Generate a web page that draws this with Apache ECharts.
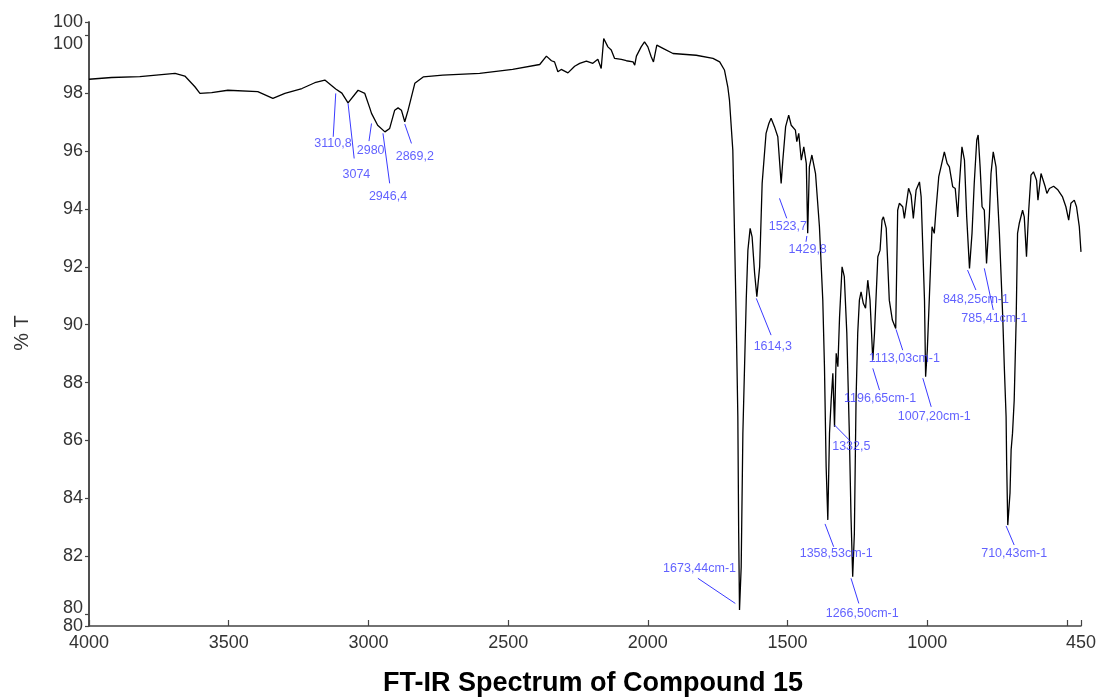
<!DOCTYPE html>
<html>
<head>
<meta charset="utf-8">
<script src="https://cdn.jsdelivr.net/npm/echarts@6/dist/echarts.min.js"></script>
<style>
html,body{margin:0;padding:0;background:#fff;}
#chart{width:1099px;height:698px;}
</style>
</head>
<body>
<div id="chart"></div>
<script>
// Spectrum (wavenumber cm-1, %T)
var wavenumber = [4000,3919,3818,3692,3657,3621,3603,3561,3503,3396,
3342,3299,3238,3192,3156,3117,3095,3073,3037,3013,
2995,2989,2967,2941,2924,2906,2894,2882,2870,2858,
2834,2804,2734,2602,2484,2387,2363,2345,2334,2322,
2310,2286,2262,2244,2220,2197,2179,2167,2158,2143,
2131,2119,2095,2077,2053,2047,2041,2024,2012,2000,
1988,1980,1968,1946,1910,1827,1767,1743,1726,1714,
1708,1696,1690,1684,1678,1675,1672,1666,1660,1648,
1642,1634,1627,1618,1610,1600,1591,1577,1567,1559,
1547,1535,1523,1517,1507,1496,1487,1481,1472,1467,
1460,1451,1442,1433,1428,1422,1413,1400,1386,1374,
1368,1362,1356,1350,1344,1338,1332,1326,1320,1314,
1305,1297,1288,1279,1273,1267,1261,1255,1249,1243,
1237,1229,1221,1213,1205,1195,1189,1177,1169,1162,
1157,1147,1136,1125,1113,1106,1100,1088,1082,1067,
1058,1050,1040,1028,1022,1010,1006,1000,993,983,
975,969,959,951,939,929,921,909,900,891,
885,876,867,859,849,840,832,823,818,811,
804,796,788,778,772,764,754,742,730,724,
718,716,712,704,700,695,689,682,677,671,
659,653,645,637,629,620,609,604,593,587,
578,572,563,548,534,516,504,494,486,474,
466,456,450];
var transmittance = [98.49,98.55,98.58,98.69,98.60,98.23,98.00,98.03,98.11,98.06,
97.83,98.00,98.17,98.37,98.46,98.15,98.01,97.67,98.11,98.00,
97.49,97.31,96.90,96.67,96.79,97.42,97.50,97.42,97.02,97.42,
98.35,98.57,98.63,98.69,98.83,99.00,99.29,99.13,99.09,98.75,
98.83,98.71,98.94,99.04,99.12,99.04,99.18,98.86,99.90,99.61,
99.50,99.21,99.18,99.13,99.09,98.98,99.29,99.61,99.78,99.61,
99.27,99.09,99.67,99.56,99.38,99.32,99.21,99.09,98.81,98.23,
97.77,96.04,93.17,90.27,86.82,82.80,80.13,81.63,86.24,90.85,
92.58,93.33,93.04,91.78,90.97,92.00,94.89,96.62,96.96,97.14,
96.85,96.50,94.89,95.69,96.85,97.25,96.90,96.90,96.73,96.33,
96.62,95.69,96.15,95.58,93.16,95.46,95.87,95.23,93.39,90.85,
88.55,85.09,83.25,86.24,87.39,88.32,86.47,89.01,88.55,90.27,
92.00,91.66,89.70,86.24,83.36,81.28,82.78,87.39,89.70,90.85,
91.14,90.74,90.57,91.54,90.85,88.78,89.70,92.35,92.58,93.62,
93.73,93.34,90.85,90.16,89.87,93.96,94.20,94.08,93.68,94.72,
94.48,93.68,94.66,94.94,94.42,90.85,88.20,89.12,90.85,93.39,
93.16,93.96,95.12,95.46,95.98,95.58,95.46,94.77,94.71,93.73,
94.89,96.15,95.69,93.73,91.95,93.16,94.89,96.39,96.56,95.46,
94.08,93.96,92.12,93.73,95.23,95.98,95.46,93.16,90.27,88.43,
86.82,85.21,83.07,84.18,85.67,86.25,87.39,90.16,93.16,93.50,
93.96,93.73,92.35,93.96,95.17,95.29,95.00,94.31,95.23,95.17,
94.77,94.54,94.71,94.79,94.68,94.42,94.08,93.62,94.20,94.31,
94.08,93.39,92.52];

// Peak annotations
var annText = ['3110,8','3074','2980','2946,4','2869,2','1673,44cm-1','1614,3','1523,7','1429,8','1358,53cm-1','1332,5','1266,50cm-1','1196,65cm-1','1113,03cm-1','1007,20cm-1','848,25cm-1','785,41cm-1','710,43cm-1'];
var annPeakWn = [3117,3073,2989,2948,2870,1687,1612,1529,1431,1366,1332,1273,1195,1112,1016,856,796,718];
var annPeakT = [98.00,97.66,96.96,96.62,96.94,80.36,90.91,94.37,93.07,83.11,86.53,81.23,88.49,89.84,88.15,91.89,91.95,83.04];
var annEndWn = [3126,3051,2998,2924,2846,1821,1559,1503,1434,1335,1279,1245,1171,1088,986,826,764,689];
var annEndT = [96.50,95.75,96.35,94.89,96.27,81.23,89.64,93.68,92.87,82.32,86.01,80.36,87.74,89.12,87.16,91.20,90.51,82.38];
var annTextWn = [3127,3043,2992,2930,2834,1815,1553,1499,1428,1326,1272,1233,1169,1082,975,826,760,689];
var annTextT = [96.27,95.18,96.02,94.42,95.81,81.58,89.24,93.39,92.61,82.07,85.78,80.02,87.45,88.84,86.82,90.88,90.22,82.09];

// Axis settings and tick values
var xMin = 450, xMax = 4000;
var yMin = 79.58, yMax = 100.47;
var xTicks = [4000, 3500, 3000, 2500, 2000, 1500, 1000, 500, 450];
var xHiddenLabels = [500];
var yTicks = [80, 82, 84, 86, 88, 90, 92, 94, 96, 98, 100];
var yEndTicks = [yMin, yMax];
var titleText = 'FT-IR Spectrum of Compound 15';
var yName = '% T';

var tickFont = '"Liberation Sans",Arial,sans-serif';

var specData = wavenumber.map(function (w, i) { return [w, transmittance[i]]; });
var lineData = annText.map(function (t, i) {
  return [{ coord: [annPeakWn[i], annPeakT[i]] }, { coord: [annEndWn[i], annEndT[i]] }];
});
var labelData = annText.map(function (t, i) { return [annTextWn[i], annTextT[i], t]; });

var richBase = { color: '#333', fontSize: 18, fontFamily: tickFont };
var yLabelStyle = {
  show: true, hideOverlap: false, showMinLabel: true, showMaxLabel: true,
  color: '#333', fontSize: 18, fontFamily: tickFont, margin: 6,
  formatter: function (v) {
    var s = String(Math.round(v));
    if (v === yTicks[yTicks.length - 1]) return '{dn|' + s + '}';
    if (v === yTicks[0]) return '{up|' + s + '}';
    return s;
  },
  rich: {
    dn: Object.assign({ padding: [16, 0, 0, 0] }, richBase),
    up: Object.assign({ padding: [0, 0, 12, 0] }, richBase)
  }
};
function yAxisDef(values, withName) {
  var a = {
    type: 'value', min: yMin, max: yMax, position: 'left', offset: 0,
    axisLine: { show: true, onZero: false, lineStyle: { color: '#444', width: 1.5 } },
    axisTick: { show: true, inside: false, length: 4, customValues: values, lineStyle: { color: '#444', width: 1.2 } },
    axisLabel: Object.assign({ customValues: values }, yLabelStyle),
    splitLine: { show: false }
  };
  if (withName) {
    a.name = yName; a.nameLocation = 'middle'; a.nameGap = 57; a.nameRotate = 90;
    a.nameTextStyle = { color: '#333', fontSize: 20, fontFamily: tickFont, padding: [0, 18, 0, 0] };
  }
  return a;
}

var chart = echarts.init(document.getElementById('chart'), null, { renderer: 'canvas' });
chart.setOption({
  animation: false,
  backgroundColor: '#fff',
  grid: { left: 89, right: 17, top: 22, bottom: 72, containLabel: false },
  xAxis: {
    type: 'value', inverse: true, min: xMin, max: xMax,
    axisLine: { show: true, onZero: false, lineStyle: { color: '#444', width: 1.5 } },
    axisTick: { show: true, inside: true, length: 6, customValues: xTicks, lineStyle: { color: '#444', width: 1.2 } },
    axisLabel: {
      show: true, customValues: xTicks, hideOverlap: false, showMinLabel: true, showMaxLabel: true,
      color: '#333', fontSize: 18, fontFamily: tickFont, margin: 8,
      formatter: function (v) { return xHiddenLabels.indexOf(v) >= 0 ? '' : String(Math.round(v)); }
    },
    splitLine: { show: false }
  },
  yAxis: [yAxisDef(yTicks, true), yAxisDef(yEndTicks, false)],
  graphic: [{
    type: 'text', left: 383, top: 670,
    style: { text: titleText, font: 'bold 27px "Liberation Sans", Arial, sans-serif', fill: '#000' }
  }],
  series: [
    {
      type: 'line', data: specData, showSymbol: false, symbol: 'none', yAxisIndex: 0,
      lineStyle: { color: '#000', width: 1.3 },
      markLine: {
        silent: true, symbol: ['none', 'none'],
        lineStyle: { color: '#3a3aff', width: 1, type: 'solid' },
        label: { show: false },
        data: lineData
      },
      z: 3
    },
    {
      type: 'scatter', data: labelData, symbolSize: 1, yAxisIndex: 0,
      itemStyle: { color: 'rgba(0,0,0,0)' },
      label: {
        show: true, position: 'inside', color: '#3a3aff',
        fontSize: 12.5, fontFamily: tickFont,
        formatter: function (p) { return p.data[2]; }
      },
      z: 4
    }
  ]
});
</script>
</body>
</html>
